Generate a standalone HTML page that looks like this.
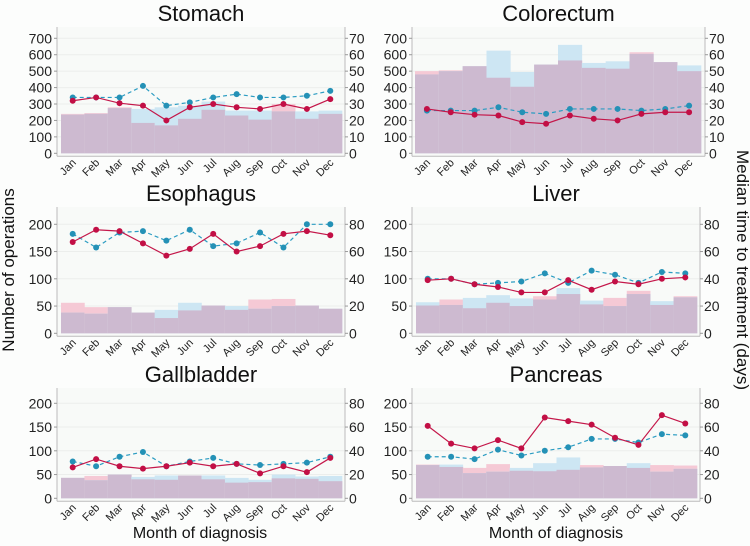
<!DOCTYPE html>
<html><head><meta charset="utf-8"><style>
body{margin:0;background:#fff;}
svg{display:block;font-family:"Liberation Sans",sans-serif;}
</style></head><body>
<svg id="chart" width="750" height="546" viewBox="0 0 750 546">
<rect width="750" height="546" fill="#fcfdfc"/>
<text x="14" y="270" font-size="17" text-anchor="middle" transform="rotate(-90 14 270)" fill="#111">Number of operations</text>
<text x="737" y="270" font-size="17" text-anchor="middle" transform="rotate(90 737 270)" fill="#111">Median time to treatment (days)</text>
<text x="200" y="538" font-size="16" text-anchor="middle" fill="#111">Month of diagnosis</text>
<text x="556" y="538" font-size="16" text-anchor="middle" fill="#111">Month of diagnosis</text>
</svg>
<script>
const months=["Jan","Feb","Mar","Apr","May","Jun","Jul","Aug","Sep","Oct","Nov","Dec"];
const stomachPink=[240,245,280,185,170,210,265,230,205,300,210,240];
const stomachBlue=[235,240,275,270,280,290,315,260,260,255,255,260];
const stomachRed=[32,34,30.5,29,20,28,30,28,27,30,27,33];
const stomachCyan=[34,34,34,41,29,31,34,36,34,34,35,38];
const colorectumPink=[500,505,530,460,405,540,565,520,515,615,555,500];
const colorectumBlue=[480,500,530,625,495,540,660,550,560,605,555,535];
const colorectumRed=[27,25,23.5,23,19,18,23,21,20,24,25,25];
const colorectumCyan=[26,26,26,28,25,24,27,27,27,26,27,29];
const esophagusPink=[56,48,48,38,28,42,51,43,62,63,51,45];
const esophagusBlue=[38,36,48,38,43,56,51,50,45,50,51,45];
const esophagusRed=[67,76,75,66,57,62,73,60,64,73,75,72];
const esophagusCyan=[73,63,74,75,68,76,64,66,74,63,80,80];
const liverPink=[51,62,46,56,50,68,72,53,65,78,52,68];
const liverBlue=[57,52,65,70,64,62,83,60,50,72,59,66];
const liverRed=[39,40,36,34,30,30,39,32,38,36,40,41];
const liverCyan=[40,40,36,37,38,44,37,46,43,37,45,44];
const gallPink=[43,47,50,40,39,48,40,33,34,42,41,36];
const gallBlue=[43,38,50,45,48,48,48,43,39,50,46,47];
const gallRed=[26,33,27,25,27,30,27,29,21,27,22,34];
const gallCyan=[31,27,35,39,27,31,34,29,28,29,30,35];
const pancPink=[71,66,64,72,58,57,60,70,68,64,70,69];
const pancBlue=[70,71,53,56,64,74,86,65,68,74,56,62];
const pancRed=[61,46,42,49,42,68,65,62,51,45,70,63];
const pancCyan=[35,35,33,41,36,40,43,50,50,47,54,53];
const leftTicksA=[0,100,200,300,400,500,600,700];
const rightTicksA=[0,10,20,30,40,50,60,70];
const leftTicksB=[0,50,100,150,200];
const rightTicksB=[0,20,40,60,80];

const svg=document.getElementById('chart');
const NS="http://www.w3.org/2000/svg";
function mk(tag,attrs,parent){const e=document.createElementNS(NS,tag);for(const k in attrs)e.setAttribute(k,attrs[k]);(parent||svg).appendChild(e);return e;}

function panel(cfg){
  const g=mk('g',{});
  
  
  const bw=(cfg.bx1-cfg.bx0)/12;
  const xc=i=>cfg.bx0+bw*(i+0.5);
  const yL=v=>cfg.y0-v*cfg.k;
  const yR=d=>yL(d*cfg.dayMul);
  mk('rect',{x:cfg.ax0,y:cfg.top,width:cfg.ax1-cfg.ax0,height:cfg.y0+3-cfg.top,fill:'#f8faf8'},g);
  cfg.lt.forEach((t,i)=>{
    if(t>0){const gl=mk('line',{x1:cfg.ax0,x2:cfg.ax1,y1:yL(t),y2:yL(t),stroke:'#eceeec','stroke-width':1},g);
    }
  });
  const t=mk('text',{x:(cfg.ax0+cfg.ax1)/2,y:cfg.top-6,'font-size':22,'text-anchor':'middle',fill:'#111'},g);
  t.textContent=cfg.title;
  
  
  for(let i=0;i<12;i++){
    const p=cfg.pink[i],b=cfg.blue[i],m=Math.min(p,b);
    const x=cfg.bx0+bw*i;
    const r1=mk('rect',{x:x,y:yL(p),width:bw+0.3,height:p*cfg.k,fill:'#f5c9d5'},g);
    
    
    const r2=mk('rect',{x:x,y:yL(b),width:bw+0.3,height:b*cfg.k,fill:'#cde6f3'},g);
    
    
    mk('rect',{x:x,y:yL(m),width:bw+0.3,height:m*cfg.k,fill:'#cdbad0'},g);
  }
  const cp=cfg.cyan.map((d,i)=>xc(i)+','+yR(d)).join(' ');
  const cl=mk('polyline',{points:cp,fill:'none',stroke:'#2b9cc2','stroke-width':1.2,'stroke-dasharray':'4,3'},g);
  
  
  const rp=cfg.red.map((d,i)=>xc(i)+','+yR(d)).join(' ');
  const rl=mk('polyline',{points:rp,fill:'none',stroke:'#c4174a','stroke-width':1.2},g);
  
  
  cfg.cyan.forEach((d,i)=>{const c=mk('circle',{cx:xc(i),cy:yR(d),r:3,fill:'#2491b6'},g);
    });
  cfg.red.forEach((d,i)=>{const c=mk('circle',{cx:xc(i),cy:yR(d),r:3,fill:'#c20f45'},g);
    });
  mk('line',{x1:cfg.ax0,x2:cfg.ax0,y1:cfg.top,y2:cfg.y0+3,stroke:'#bbb','stroke-width':1},g);
  mk('line',{x1:cfg.ax1,x2:cfg.ax1,y1:cfg.top,y2:cfg.y0+3,stroke:'#bbb','stroke-width':1},g);
  mk('line',{x1:cfg.ax0,x2:cfg.ax1,y1:cfg.y0+3,y2:cfg.y0+3,stroke:'#bbb','stroke-width':1},g);
  cfg.lt.forEach(v=>{
    mk('line',{x1:cfg.ax0-3,x2:cfg.ax0,y1:yL(v),y2:yL(v),stroke:'#999'},g);
    const tx=mk('text',{x:cfg.ax0-5,y:yL(v)+5,'font-size':14,'text-anchor':'end',fill:'#222'},g);
    tx.textContent=v;
    
    
  });
  cfg.rt.forEach(v=>{
    mk('line',{x1:cfg.ax1,x2:cfg.ax1+3,y1:yR(v),y2:yR(v),stroke:'#999'},g);
    const tx=mk('text',{x:cfg.ax1+4,y:yR(v)+5,'font-size':14,'text-anchor':'start',fill:'#222'},g);
    tx.textContent=v;
    
    
  });
  months.forEach((m,i)=>{
    const x=xc(i)+4,y=cfg.y0+10;
    const tx=mk('text',{x:x,y:y,'font-size':11,'text-anchor':'end',fill:'#222',transform:'rotate(-45 '+x+' '+y+')'},g);
    tx.textContent=m;
    
    
  });
}
panel({id:'stomach',title:'Stomach',pink:stomachPink,blue:stomachBlue,red:stomachRed,cyan:stomachCyan,bx0:61,bx1:342,ax0:57,ax1:345,top:27,y0:153.3,k:0.1643,dayMul:10,lt:leftTicksA,rt:rightTicksA});
panel({id:'colorectum',title:'Colorectum',pink:colorectumPink,blue:colorectumBlue,red:colorectumRed,cyan:colorectumCyan,bx0:415,bx1:701,ax0:412,ax1:705,top:27,y0:153.3,k:0.1643,dayMul:10,lt:leftTicksA,rt:rightTicksA});
panel({id:'esophagus',title:'Esophagus',pink:esophagusPink,blue:esophagusBlue,red:esophagusRed,cyan:esophagusCyan,bx0:61,bx1:342,ax0:57,ax1:345,top:207,y0:333.3,k:0.545,dayMul:2.5,lt:leftTicksB,rt:rightTicksB});
panel({id:'liver',title:'Liver',pink:liverPink,blue:liverBlue,red:liverRed,cyan:liverCyan,bx0:416,bx1:697,ax0:412,ax1:700,top:207,y0:333.3,k:0.545,dayMul:2.5,lt:leftTicksB,rt:rightTicksB});
panel({id:'gallbladder',title:'Gallbladder',pink:gallPink,blue:gallBlue,red:gallRed,cyan:gallCyan,bx0:61,bx1:342,ax0:57,ax1:345,top:388,y0:498.3,k:0.475,dayMul:2.5,lt:leftTicksB,rt:rightTicksB});
panel({id:'pancreas',title:'Pancreas',pink:pancPink,blue:pancBlue,red:pancRed,cyan:pancCyan,bx0:416,bx1:697,ax0:412,ax1:700,top:388,y0:498.3,k:0.475,dayMul:2.5,lt:leftTicksB,rt:rightTicksB});
</script>
</body></html>
